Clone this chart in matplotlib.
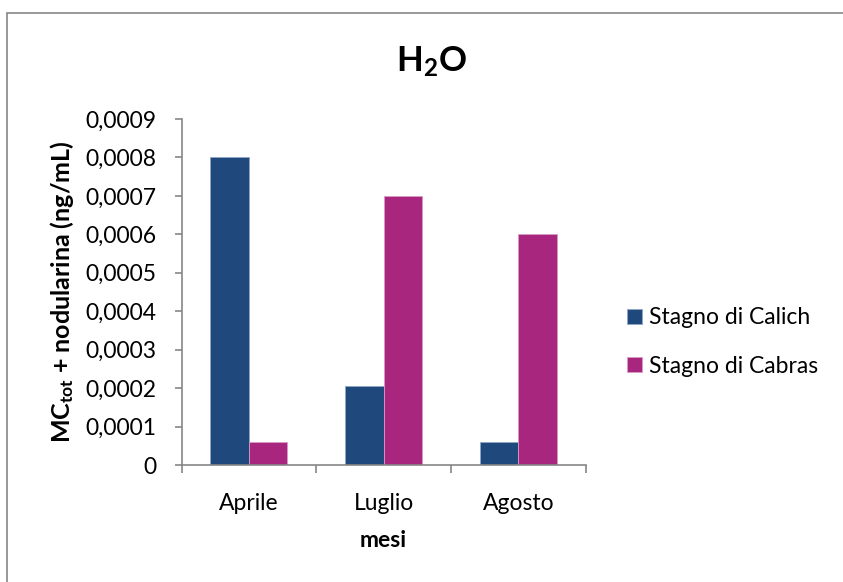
import matplotlib
matplotlib.use("Agg")
import matplotlib.pyplot as plt
import numpy as np
from matplotlib.patches import Rectangle

plt.rcParams['font.family'] = ['Lato', 'DejaVu Sans']
plt.rcParams['mathtext.fontset'] = 'custom'
plt.rcParams['mathtext.rm'] = 'Lato'
plt.rcParams['mathtext.it'] = 'Lato:italic'
plt.rcParams['mathtext.bf'] = 'Lato:bold'

months = ["Aprile", "Luglio", "Agosto"]
calich = [0.0008, 0.000205, 0.00006]
cabras = [0.00006, 0.0007, 0.0006]
series_names = ["Stagno di Calich", "Stagno di Cabras"]
yticks = [0, 0.0001, 0.0002, 0.0003, 0.0004, 0.0005, 0.0006, 0.0007, 0.0008, 0.0009]

W, H = 843, 582
fig = plt.figure(figsize=(W / 100, H / 100), dpi=100)

# outer chart frame
fig.patches.append(Rectangle((7 / W, -0.05), 1.2, 1 - 13 / H + 0.05, transform=fig.transFigure,
                             fill=False, edgecolor="#868686", lw=1.2))

ax = fig.add_axes([181.5 / W, 1 - 465 / H, (585.7 - 181.5) / W, (465 - 119) / H])

FS = 16.5
bw = 0.2857
x = np.arange(len(months))
ax.bar(x - bw / 2, calich, width=bw, color="#1F497D", edgecolor="#8FA6C6", linewidth=0.6,
       label=series_names[0])
ax.bar(x + bw / 2, cabras, width=bw, color="#A9267F", edgecolor="#D79BC5", linewidth=0.6,
       label=series_names[1])

ax.set_xlim(-0.5, 2.5)
ax.set_ylim(0, 0.0009)
ax.set_yticks(yticks)
ax.set_yticklabels(["0"] + [f"{v:.4f}".replace(".", ",") for v in yticks[1:]])

ax.set_xticks(x)
ax.set_xticklabels(months)
ax.set_xticks([-0.5, 0.5, 1.5, 2.5], minor=True)
ax.tick_params(axis="x", which="major", length=0, pad=20, labelsize=FS)
ax.tick_params(axis="x", which="minor", length=6, color="#868686", width=1.2, direction="out")
ax.tick_params(axis="y", length=5, color="#868686", width=1.2, direction="out", pad=13,
               labelsize=FS)

for s in ["top", "right"]:
    ax.spines[s].set_visible(False)
for s in ["left", "bottom"]:
    ax.spines[s].set_color("#868686")
    ax.spines[s].set_linewidth(1.2)

ax.set_xlabel("mesi", fontsize=FS, fontweight="bold", labelpad=12)
ax.set_ylabel(r"MC$_{\mathbf{tot}}$ + nodularina (ng/mL)", fontsize=18, fontweight="bold",
              labelpad=7)
fig.text(431 / W, 1 - 62 / H, r"$\mathbf{H_2O}$", fontsize=25, ha="center", va="center")

ax.legend(loc="center left", bbox_to_anchor=(627 / W, 1 - 342 / H),
          bbox_transform=fig.transFigure, frameon=False, fontsize=FS,
          borderaxespad=0, borderpad=0,
          handlelength=0.65, handleheight=0.65, handletextpad=0.3, labelspacing=1.2)

fig.savefig("out.png", dpi=100, facecolor="white")
